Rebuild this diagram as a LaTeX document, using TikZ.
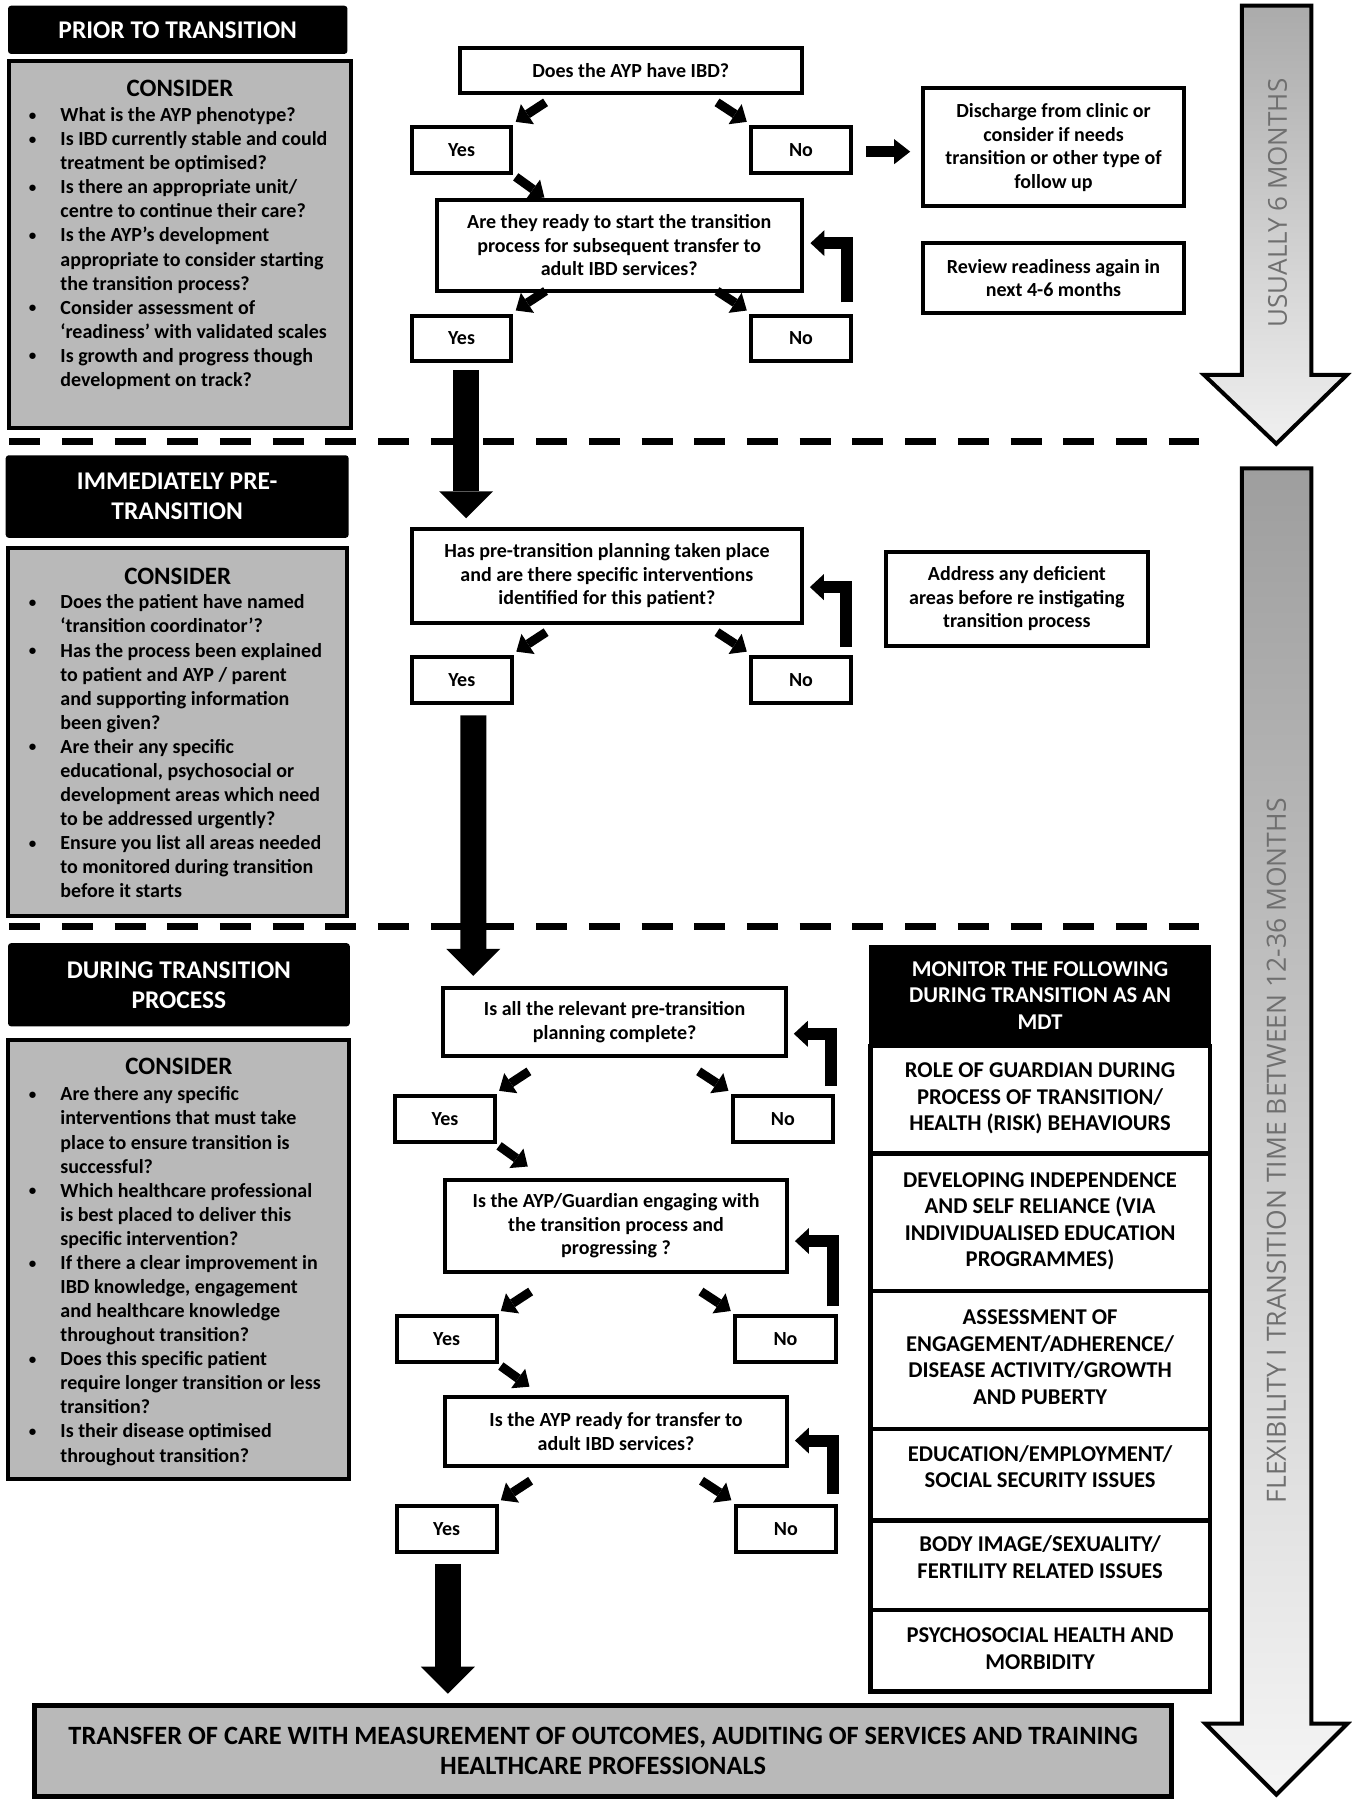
\documentclass[tikz,border=0pt]{standalone}
\usepackage{fontspec}
\setmainfont{Carlito}
\newfontfamily\vfont{Open Sans}
\usetikzlibrary{arrows.meta,calc}
\definecolor{boxgray}{HTML}{B9B9B9}
\definecolor{vgray}{HTML}{6F6F6F}
\newcommand\bu{\makebox[35pt][l]{\hspace{3.5pt}\raisebox{1.4pt}{\scalebox{0.75}{\textbullet}}}}
\newcommand\blist[1]{\begin{tabular}[t]{@{}l@{}l@{}}#1\end{tabular}}
\begin{document}
\begin{tikzpicture}[x=1.1467pt,y=-1.1467pt,
  box/.style n args={4}{minimum width={(#3-#1)*1.1467pt},minimum height={(#4-#2)*1.1467pt},
    at={({(#1+#3)/2},{(#2+#4)/2})}},
  fbox/.style={draw,line width=4pt,fill=white,inner sep=0pt,align=center,
    font=\bfseries\fontsize{20}{23.5}\selectfont},
  hdr/.style={fill=black,text=white,rounded corners=3pt,inner sep=0pt,align=center,
    font=\bfseries\fontsize{25.5}{30}\selectfont},
  graybox/.style={draw,line width=4pt,fill=boxgray,inner sep=0pt},
  consider/.style={anchor=base,inner sep=0pt,font=\bfseries\fontsize{25}{28}\selectfont},
  bullets/.style={anchor=base west,inner sep=0pt,font=\bfseries\fontsize{20}{24.08}\selectfont},
  mdthead/.style={fill=black,text=white,inner sep=0pt,align=center,
    font=\bfseries\fontsize{22.6}{26.5}\selectfont},
  mdtbox/.style={draw,line width=4.5pt,fill=white,inner sep=0pt,align=center,text depth=6pt,
    font=\bfseries\fontsize{22.6}{26.5}\selectfont},
  finalbox/.style={draw,line width=5pt,fill=boxgray,inner sep=0pt,align=center,
    font=\bfseries\fontsize{26.4}{30}\selectfont},
  dashline/.style={line width=7pt,dash pattern=on 31pt off 21.7pt},
  sarrow/.style={line width=9pt,-{Triangle[width=24pt,length=14pt,line width=0pt]}},
  rarrow/.style={line width=12pt,line join=miter,-{Triangle[width=26pt,length=14pt,line width=0pt]}},
  harrow/.style={line width=11pt,-{Triangle[width=25pt,length=16pt,line width=0pt]}},
  barrow/.style={line width=26pt,-{Triangle[width=54pt,length=27pt,line width=0pt]}},
  timearrow/.style={line width=4pt,line join=miter},
  vtext/.style={rotate=90,text=vgray,inner sep=0pt,font=\vfont\fontsize{26.5}{30}\selectfont}
]
\useasboundingbox (0,0) rectangle (1179,1569.7);
\fill[white] (0,0) rectangle (1179,1569.7);

% ---- dashed separators
\draw[dashline] (8,385) -- (1046,385);
\draw[dashline] (8,808) -- (1046,808);

% ---- time arrows
\shadedraw[timearrow,top color=black!33,bottom color=black!6]
  (1083,5) -- (1143.5,5) -- (1143.5,327) -- (1174.5,327) -- (1113,387)
  -- (1050,327) -- (1083,327) -- cycle;
\node[vtext,font=\vfont\fontsize{26}{30}\selectfont] (t1) at (1114,177) {USUALLY 6 MONTHS};
\shadedraw[timearrow,top color=black!38,bottom color=black!4]
  (1083,408.5) -- (1143.5,408.5) -- (1143.5,1503) -- (1175,1503) -- (1113,1565)
  -- (1051,1503) -- (1083,1503) -- cycle;
\node[vtext] (t2) at (1113,1003.5) {FLEXIBILITY I TRANSITION TIME BETWEEN 12-36 MONTHS};

% ---- left column
\node[hdr,box={7}{5}{303}{47}] (h1) {PRIOR TO TRANSITION};
\node[graybox,box={8}{53}{306}{373}] (g1) {};
\node[consider] (c1) at (157,84.3) {CONSIDER};
\node[bullets] (l1) at (22,106) {\blist{%
\bu & What is the AYP phenotype?\\
\bu & Is IBD currently stable and could\\
 & treatment be optimised?\\
\bu & Is there an appropriate unit/\\
 & centre to continue their care?\\
\bu & Is the AYP’s development\\
 & appropriate to consider starting\\
 & the transition process?\\
\bu & Consider assessment of\\
 & ‘readiness’ with validated scales\\
\bu & Is growth and progress though\\
 & development on track?}};

\node[hdr,box={5}{397}{304}{469}] (h2) {IMMEDIATELY PRE-\\TRANSITION};
\node[graybox,box={7}{478}{303}{799}] (g2) {};
\node[consider] (c2) at (155,509.3) {CONSIDER};
\node[bullets] (l2) at (22,531) {\blist{%
\bu & Does the patient have named\\
 & ‘transition coordinator’?\\
\bu & Has the process been explained\\
 & to patient and AYP / parent\\
 & and supporting information\\
 & been given?\\
\bu & Are their any specific\\
 & educational, psychosocial or\\
 & development areas which need\\
 & to be addressed urgently?\\
\bu & Ensure you list all areas needed\\
 & to monitored during transition\\
 & before it starts}};

\node[hdr,box={7}{822.5}{305}{895}] (h3) {DURING TRANSITION\\PROCESS};
\node[graybox,box={7}{907}{304}{1290}] (g3) {};
\node[consider] (c3) at (156,937.3) {CONSIDER};
\node[bullets] (l3) at (22,960) {\blist{%
\bu & Are there any specific\\
 & interventions that must take\\
 & place to ensure transition is\\
 & successful?\\
\bu & Which healthcare professional\\
 & is best placed to deliver this\\
 & specific intervention?\\
\bu & If there a clear improvement in\\
 & IBD knowledge, engagement\\
 & and healthcare knowledge\\
 & throughout transition?\\
\bu & Does this specific patient\\
 & require longer transition or less\\
 & transition?\\
\bu & Is their disease optimised\\
 & throughout transition?}};

% ---- flow boxes
\node[fbox,box={401}{42}{699}{81}] (q1) {Does the AYP have IBD?};
\node[fbox,box={359}{111}{446}{150.5}] (y1) {Yes};
\node[fbox,box={655}{111}{742}{150.5}] (n1) {No};
\node[fbox,box={805}{77}{1032.5}{180}] (dis) {Discharge from clinic or\\consider if needs\\transition or other type of\\follow up};
\node[fbox,box={381}{174}{699}{254}] (q2) {Are they ready to start the transition\\process for subsequent transfer to\\adult IBD services?};
\node[fbox,box={359}{275.5}{446}{314.5}] (y2) {Yes};
\node[fbox,box={655}{275.5}{742}{314.5}] (n2) {No};
\node[fbox,box={805}{212}{1032.5}{273}] (rev) {Review readiness again in\\next 4-6 months};

\node[fbox,box={359}{461}{699.5}{543}] (q3) {Has pre-transition planning taken place\\and are there specific interventions\\identified for this patient?};
\node[fbox,box={359}{573}{446.5}{613}] (y3) {Yes};
\node[fbox,box={655}{573}{742}{613}] (n3) {No};
\node[fbox,box={772.5}{481}{1001}{563}] (addr) {Address any deficient\\areas before re instigating\\transition process};

\node[fbox,box={386.5}{862}{685.5}{921}] (q4) {Is all the relevant pre-transition\\planning complete?};
\node[fbox,box={344.5}{956}{431.5}{995.5}] (y4) {Yes};
\node[fbox,box={639}{956}{726.5}{995.5}] (n4) {No};
\node[fbox,box={388}{1029}{686.5}{1109.5}] (q5) {Is the AYP/Guardian engaging with\\the transition process and\\progressing ?};
\node[fbox,box={346}{1148}{433}{1187.5}] (y5) {Yes};
\node[fbox,box={641}{1148}{729}{1187.5}] (n5) {No};
\node[fbox,box={388}{1218}{686.5}{1278.5}] (q6) {Is the AYP ready for transfer to\\adult IBD services?};
\node[fbox,box={346}{1313}{433}{1353}] (y6) {Yes};
\node[fbox,box={641.5}{1313}{729}{1353}] (n6) {No};

% ---- MDT panel
\node[mdthead,box={758}{824}{1056}{912}] (m0) {MONITOR THE FOLLOWING\\DURING TRANSITION AS AN\\MDT};
\node[mdtbox,box={759}{912}{1055}{1006}] (m1) {ROLE OF GUARDIAN DURING\\PROCESS OF TRANSITION/\\HEALTH (RISK) BEHAVIOURS};
\node[mdtbox,box={759}{1006}{1055}{1126}] (m2) {DEVELOPING INDEPENDENCE\\AND SELF RELIANCE (VIA\\INDIVIDUALISED EDUCATION\\PROGRAMMES)};
\node[mdtbox,box={759}{1126}{1055}{1246}] (m3) {ASSESSMENT OF\\ENGAGEMENT/ADHERENCE/\\DISEASE ACTIVITY/GROWTH\\AND PUBERTY};
\node[mdtbox,text depth=16pt,box={759}{1246}{1055}{1326}] (m4) {EDUCATION/EMPLOYMENT/\\SOCIAL SECURITY ISSUES};
\node[mdtbox,text depth=16pt,box={759}{1326}{1055}{1404}] (m5) {BODY IMAGE/SEXUALITY/\\FERTILITY RELATED ISSUES};
\node[mdtbox,text depth=4pt,box={759}{1404}{1055}{1475}] (m6) {PSYCHOSOCIAL HEALTH AND\\MORBIDITY};

% ---- final box
\node[finalbox,box={30}{1487}{1022}{1567}] (fin) {TRANSFER OF CARE WITH MEASUREMENT OF OUTCOMES, AUDITING OF SERVICES AND TRAINING\\HEALTHCARE PROFESSIONALS};

% ---- diagonal arrows: question -> yes / no
\foreach \y/\n in {y1/n1,y2/n2,y3/n3,y4/n4,y5/n5,y6/n6}{
  \draw[sarrow] ([shift={(28,-20)}]\y.north east) -- ([shift={(2,-3)}]\y.north east);
  \draw[sarrow] ([shift={(-28,-20)}]\n.north west) -- ([shift={(-2,-3)}]\n.north west);
}
% yes -> next question
\foreach \y in {y1,y4,y5}{
  \draw[sarrow] ([shift={(2,2)}]\y.south east) -- ([shift={(27,20)}]\y.south east);
}
% no -> discharge
\draw[harrow] ([shift={(11.5,1.5)}]n1.east) -- ++(38.5,0);

% ---- return arrows
\draw[rarrow] ([shift={(-5,-10)}]n2.north east) |- ([shift={(6,-2)}]q2.east);
\draw[rarrow] ([shift={(-6,-7)}]n3.north east) |- ([shift={(5,10)}]q3.east);
\draw[rarrow] ([shift={(-4,-7)}]n4.north east) |- ([shift={(5,10)}]q4.east);
\draw[rarrow] ([shift={(-4,-7)}]n5.north east) |- ([shift={(5,13)}]q5.east);
\draw[rarrow] ([shift={(-4,-8)}]n6.north east) |- ([shift={(5,8)}]q6.east);

% ---- big down arrows
\coordinate (aA) at (406.5,452);
\coordinate (aB) at (412.7,851);
\coordinate (aC) at (390.5,1477);
\draw[barrow] ([shift={(4,6.5)}]y2.south) -- (aA);
\draw[barrow] ([shift={(10,9)}]y3.south) -- (aB);
\draw[barrow] ([shift={(1,9)}]y6.south) -- (aC);
\end{tikzpicture}
\end{document}
